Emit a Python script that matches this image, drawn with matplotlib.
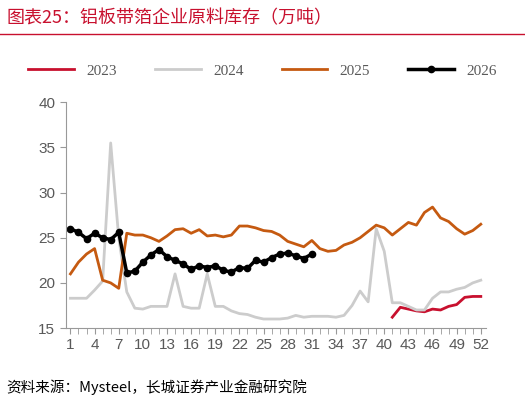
import matplotlib
matplotlib.use("Agg")
import matplotlib.pyplot as plt
import numpy as np

plt.rcParams['font.family'] = ['Noto Sans CJK SC', 'DejaVu Sans']

weeks = list(range(1, 53))
w2023 = list(range(41, 53))
v2023 = [16.2,17.3,17.1,16.9,16.8,17.1,17.0,17.4,17.6,18.4,18.5,18.5]
v2024 = [18.3,18.3,18.3,19.2,20.2,35.5,25,19,17.2,17.1,17.4,17.4,17.4,21,17.4,17.2,17.2,21,17.4,17.4,
         16.9,16.6,16.5,16.2,16.0,16.0,16.0,16.1,16.4,16.2,16.3,16.3,16.3,16.2,16.4,17.5,19.1,17.9,26.0,23.5,
         17.8,17.8,17.4,17.0,17.0,18.3,19.0,19.0,19.3,19.5,20.0,20.3]
v2025 = [21,22.3,23.2,23.8,20.3,20.0,19.4,25.5,25.3,25.3,25.0,24.6,25.2,25.9,26.0,25.5,25.9,25.2,25.3,25.1,
         25.3,26.3,26.3,26.1,25.8,25.7,25.3,24.6,24.3,24.0,24.7,23.8,23.5,23.6,24.2,24.5,25.0,25.7,26.4,26.1,
         25.3,26.0,26.7,26.4,27.8,28.4,27.2,26.8,26.0,25.4,25.8,26.5]
w2026 = list(range(1, 32))
v2026 = [26.0,25.6,24.9,25.5,25.0,24.8,25.6,21.1,21.3,22.3,23.1,23.7,22.9,22.5,22.1,21.5,21.9,21.7,21.9,21.4,
         21.2,21.7,21.6,22.5,22.3,22.8,23.2,23.3,23.0,22.7,23.2]
xticks = list(range(1, 53, 3))

fig = plt.figure(figsize=(5.25, 4.03), dpi=100)
ax = fig.add_axes([0.125, 0.186, 0.8, 0.56])
ax.plot(w2023, v2023, color='#C8102E', lw=2, label='2023')
ax.plot(weeks, v2024, color='#CCCCCC', lw=2, label='2024')
ax.plot(weeks, v2025, color='#C55A11', lw=2, label='2025')
ax.plot(w2026, v2026, color='black', lw=2.5, marker='o', ms=4.5, label='2026')
ax.set_xlim(0.4, 52.6)
ax.set_ylim(15, 40)
ax.set_yticks([15, 20, 25, 30, 35, 40])
ax.set_xticks(xticks)
ax.set_xticks(weeks, minor=True)
for s in ['top', 'right']:
    ax.spines[s].set_visible(False)
for s in ['left', 'bottom']:
    ax.spines[s].set_color('#999999')
ax.tick_params(colors='#595959', labelsize=11, direction='out')
ax.tick_params(axis='x', which='both', color='#999999', length=4)
ax.tick_params(axis='y', color='#999999', length=4)
for t in ax.get_xticklabels() + ax.get_yticklabels():
    t.set_family('Liberation Sans')
leg = fig.legend(loc='upper center', bbox_to_anchor=(0.5, 0.875), ncol=4, frameon=False,
                 prop={'family': 'Liberation Serif', 'size': 11}, handlelength=3, columnspacing=2.5)
for t in leg.get_texts():
    t.set_color('#595959')
fig.text(0.012, 0.955, '图表25：铝板带箔企业原料库存（万吨）', color='#C8102E', fontsize=13,
         style='italic', va='center')
fig.add_artist(plt.Line2D([0.0, 1.0], [0.915, 0.915], color='#C8102E', lw=1))
fig.text(0.012, 0.04, '资料来源：Mysteel，长城证券产业金融研究院', fontsize=10.5, style='italic',
         color='black', va='center')
fig.savefig('out.png', dpi=100)
